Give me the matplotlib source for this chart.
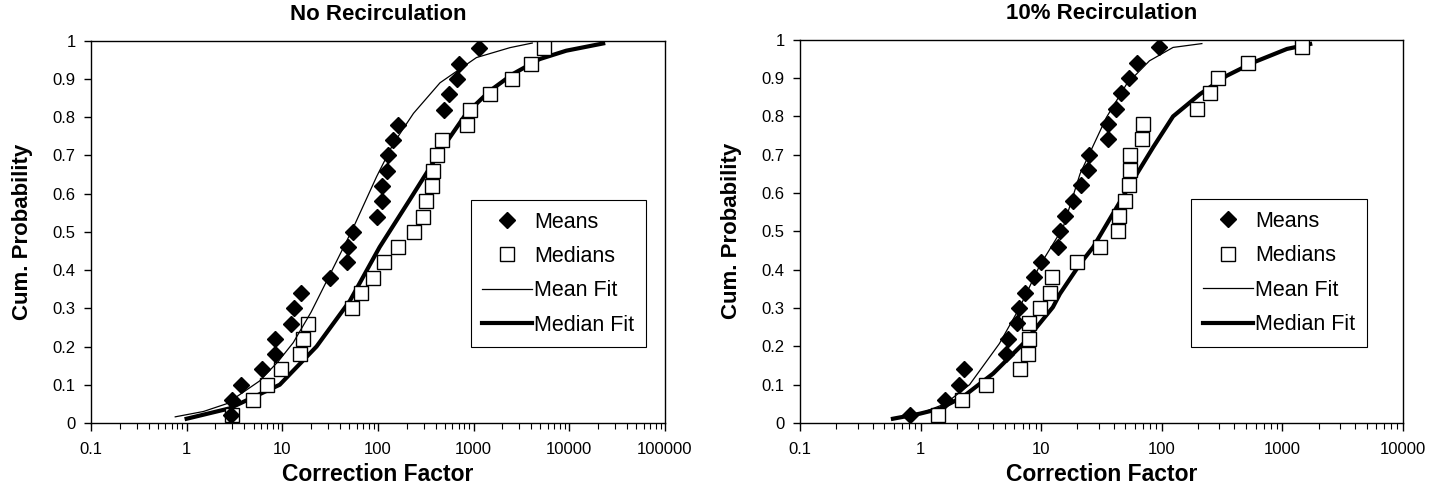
import numpy as np
import matplotlib
matplotlib.use('Agg')
import matplotlib.pyplot as plt
import matplotlib.ticker as tck

plt.rcParams['font.family'] = ['Liberation Sans', 'DejaVu Sans']

## ---------------------------- DATOS ---------------------------- ##
# probabilidades acumuladas de los puntos (iguales en ambos paneles)
prob = [0.02, 0.06, 0.10, 0.14, 0.18, 0.22, 0.26, 0.30, 0.34, 0.38, 0.42, 0.46, 0.50,
        0.54, 0.58, 0.62, 0.66, 0.70, 0.74, 0.78, 0.82, 0.86, 0.90, 0.94, 0.98]

# Panel izquierdo: sin recirculacion
means_nr = [2.9, 3.0, 3.7, 6.1, 8.4, 8.4, 12.2, 13.3, 15.8, 31.4, 48, 49, 55,
            98, 109, 109, 123, 128, 144, 162, 490, 556, 663, 705, 1133]
medians_nr = [2.95, 4.9, 6.95, 9.7, 15.3, 16.5, 18.6, 53.7, 67, 88, 117, 162, 239,
              297, 316, 363, 378, 410, 462, 843, 913, 1480, 2490, 3935, 5400]
meanfit_nr_x = [0.76, 1.5, 2.6, 5.8, 9, 13, 20, 31, 55, 97, 144, 235, 445, 1070, 2400, 4100]
meanfit_nr_p = [0.016, 0.03, 0.05, 0.11, 0.16, 0.21, 0.29, 0.385, 0.51, 0.645, 0.73, 0.81,
                0.89, 0.956, 0.982, 0.994]
medfit_nr_x = [1.0, 2.8, 9.4, 22.8, 51, 104, 215, 445, 840, 1480, 2570, 4900, 9300, 22600]
medfit_nr_p = [0.011, 0.038, 0.10, 0.20, 0.32, 0.46, 0.584, 0.71, 0.81, 0.869, 0.913,
               0.952, 0.974, 0.993]
xticks_nr = [0.1, 1, 10, 100, 1000, 10000, 100000]

# Panel derecho: 10% recirculacion
means_10 = [0.81, 1.6, 2.1, 2.29, 5.1, 5.3, 6.3, 6.5, 7.3, 8.7, 10, 13.8, 14.3,
            15.7, 18.5, 21.5, 24.5, 25, 35.5, 36, 42, 46, 53, 62.5, 95]
medians_10 = [1.39, 2.2, 3.5, 6.7, 7.8, 7.9, 8.0, 9.8, 11.9, 12.3, 19.9, 30.6, 43,
              44, 50, 53, 54, 54, 68, 70, 195, 252, 290, 522, 1450]
meanfit_10_x = [0.59, 0.98, 1.6, 2.55, 4.5, 6.6, 9.7, 15.2, 21, 34.7, 51, 79, 124, 215]
meanfit_10_p = [0.011, 0.024, 0.05, 0.10, 0.207, 0.30, 0.41, 0.51, 0.65, 0.797, 0.884,
                0.945, 0.98, 0.99]
medfit_10_x = [0.59, 0.98, 1.44, 2.24, 4.0, 7.1, 12.5, 14.3, 21, 27, 51, 85, 124, 207,
               345, 577, 1090, 1700]
medfit_10_p = [0.011, 0.024, 0.037, 0.068, 0.129, 0.207, 0.302, 0.337, 0.415, 0.459,
               0.606, 0.72, 0.80, 0.858, 0.906, 0.941, 0.976, 0.989]
xticks_10 = [0.1, 1, 10, 100, 1000, 10000]

yticks = [0, 0.1, 0.2, 0.3, 0.4, 0.5, 0.6, 0.7, 0.8, 0.9, 1]

## ---------------------------- FIGURA ---------------------------- ##
fig = plt.figure(figsize=[14.44, 4.97], dpi=100)
ax1 = fig.add_axes([0.063, 0.149, 0.3975, 0.769])
ax2 = fig.add_axes([0.554, 0.149, 0.4176, 0.771])


def panel(ax, medx, medp, meanfx, meanfp, mx, mdx, titulo, xticks, leg_anchor):
    ax.set_xscale('log')
    ax.plot(mx, prob, linestyle='none', marker='D', color='k', ms=8.5, label='Means', zorder=4)
    ax.plot(mdx, prob, linestyle='none', marker='s', mfc='white', mec='k', mew=1.0, ms=9.5,
            label='Medians', zorder=3)
    ax.plot(meanfx, meanfp, color='k', lw=0.9, label='Mean Fit', zorder=5)
    ax.plot(medx, medp, color='k', lw=3.0, label='Median Fit', zorder=2)
    ax.set_xlim(xticks[0], xticks[-1])
    ax.set_ylim(0, 1)
    ax.set_yticks(yticks)
    ax.set_yticklabels(['%g' % v for v in yticks])
    ax.set_xticks(xticks)
    ax.set_xticklabels(['%g' % v for v in xticks])
    ax.xaxis.set_minor_locator(tck.LogLocator(base=10, subs=np.arange(2, 10), numticks=20))
    ax.xaxis.set_minor_formatter(tck.NullFormatter())
    ax.tick_params(axis='x', which='major', length=6, width=1, pad=8, labelsize=12)
    ax.tick_params(axis='x', which='minor', length=4, width=0.8)
    ax.tick_params(axis='y', which='major', length=5, width=1, pad=6, labelsize=12)
    for s in ax.spines.values():
        s.set_linewidth(1.0)
        s.set_color('k')
    ax.set_title(titulo, fontsize=16, fontweight='bold', pad=15)
    ax.set_xlabel('Correction Factor', fontsize=16.5, fontweight='bold', labelpad=4)
    ax.set_ylabel('Cum. Probability', fontsize=16, fontweight='bold', labelpad=14)
    leg = ax.legend(loc='upper right', bbox_to_anchor=leg_anchor, fontsize=15.5, frameon=True,
                    fancybox=False, edgecolor='k', framealpha=1, handlelength=2.3,
                    handletextpad=0.1, borderpad=0.55, labelspacing=0.62, borderaxespad=0)
    leg.get_frame().set_linewidth(0.8)


panel(ax1, medfit_nr_x, medfit_nr_p, meanfit_nr_x, meanfit_nr_p, means_nr, medians_nr,
      'No Recirculation', xticks_nr, (0.967, 0.584))
panel(ax2, medfit_10_x, medfit_10_p, meanfit_10_x, meanfit_10_p, means_10, medians_10,
      '10% Recirculation', xticks_10, (0.94, 0.584))

plt.savefig('out.png', dpi=100)
